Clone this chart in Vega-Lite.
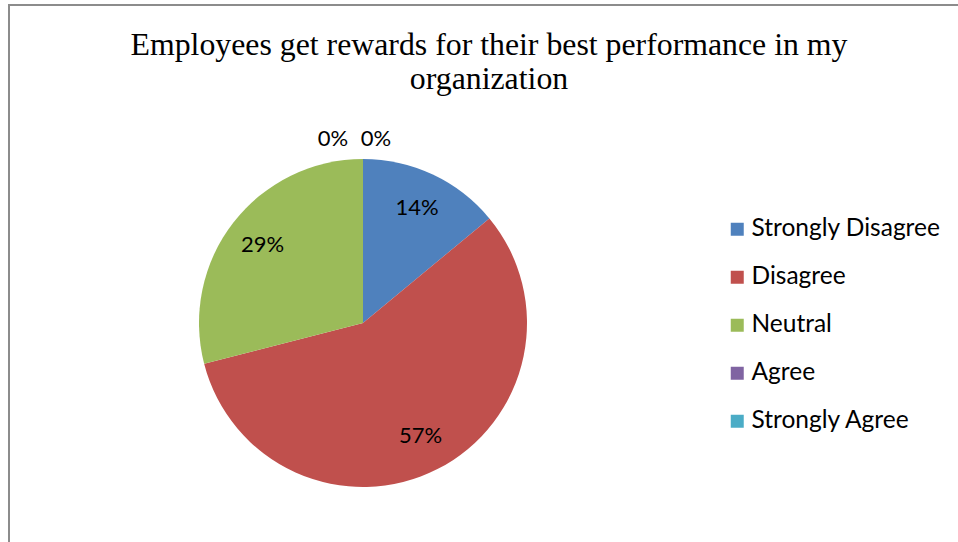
{
  "$schema": "https://vega.github.io/schema/vega-lite/v6.json",
  "width": 960,
  "height": 600,
  "autosize": {"type": "none"},
  "padding": {"left": 9, "top": 5, "right": 0, "bottom": 0},
  "background": "white",
  "view": {"stroke": "#8c8c8c", "strokeWidth": 2},
  "config": {"view": {"stroke": "#8c8c8c", "strokeWidth": 2}},
  "title": {
    "text": ["Employees get rewards for their best performance in my", "organization"],
    "font": "Liberation Serif",
    "fontSize": 31.8,
    "fontWeight": "normal",
    "color": "black",
    "anchor": "middle",
    "frame": "group",
    "baseline": "top",
    "offset": 0,
    "dy": 91,
    "lineHeight": 34
  },
  "data": {
    "values": [
      {"cat": "Strongly Disagree", "v": 14, "lab": "14%", "i": 1},
      {"cat": "Disagree", "v": 57, "lab": "57%", "i": 2},
      {"cat": "Neutral", "v": 29, "lab": "29%", "i": 3},
      {"cat": "Agree", "v": 0, "lab": "0%", "i": 4},
      {"cat": "Strongly Agree", "v": 0, "lab": "0%", "i": 5}
    ]
  },
  "encoding": {
    "theta": {"field": "v", "type": "quantitative", "stack": true},
    "order": {"field": "i", "type": "quantitative"}
  },
  "layer": [
    {
      "mark": {"type": "arc", "outerRadius": 164, "x": 354, "y": 318},
      "encoding": {
        "color": {
          "field": "cat",
          "type": "nominal",
          "scale": {
            "domain": ["Strongly Disagree", "Disagree", "Neutral", "Agree", "Strongly Agree"],
            "range": ["#4f81bd", "#c0504d", "#9bbb59", "#8064a2", "#4bacc6"]
          },
          "legend": {
            "orient": "none",
            "legendX": 716,
            "legendY": 212,
            "title": null,
            "symbolType": "square",
            "symbolSize": 169,
            "symbolStrokeWidth": 0,
            "labelFont": "Lato",
            "labelFontSize": 24.5,
            "labelColor": "black",
            "labelOffset": 2,
            "labelLimit": 400,
            "rowPadding": 23,
            "padding": 0,
            "labelExpr": "(datum.label == 'Disagree' ? '\\u2009' : '') + datum.label"
          }
        }
      }
    },
    {
      "mark": {"type": "text", "radius": 127, "x": 354, "y": 318, "font": "Lato", "fontSize": 22, "color": "black"},
      "encoding": {
        "detail": {"field": "cat", "type": "nominal"},
        "text": {"condition": {"test": "datum.v > 0", "field": "lab"}, "value": ""}
      }
    },
    {
      "mark": {"type": "text", "radius": 184, "x": 354, "y": 318, "dx": -30, "font": "Lato", "fontSize": 22, "color": "black"},
      "encoding": {
        "detail": {"field": "cat", "type": "nominal"},
        "text": {"condition": {"test": "datum.cat === 'Agree'", "field": "lab"}, "value": ""}
      }
    },
    {
      "mark": {"type": "text", "radius": 184, "x": 354, "y": 318, "dx": 13, "font": "Lato", "fontSize": 22, "color": "black"},
      "encoding": {
        "detail": {"field": "cat", "type": "nominal"},
        "text": {"condition": {"test": "datum.cat === 'Strongly Agree'", "field": "lab"}, "value": ""}
      }
    }
  ]
}
